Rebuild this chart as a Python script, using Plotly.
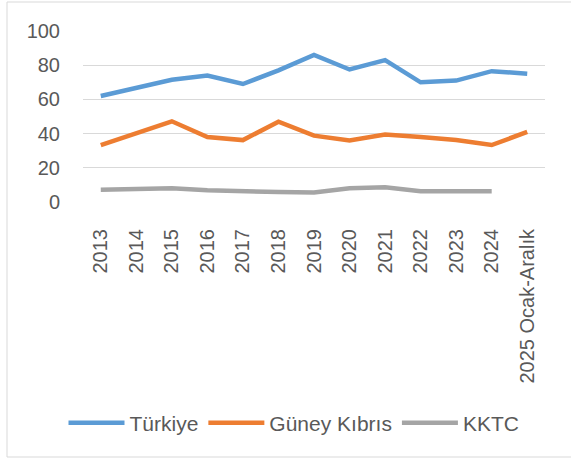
import plotly.graph_objects as go

categories = ["2013", "2014", "2015", "2016", "2017", "2018", "2019",
              "2020", "2021", "2022", "2023", "2024", "2025 Ocak-Aralık"]
turkiye = [62, 67, 71.5, 74, 69, 77, 86, 77.5, 83, 70, 71, 76.5, 75]
guney_kibris = [33.3, 40.5, 47.2, 38, 36.2, 47, 38.8, 36, 39.5, 38, 36.2, 33.3, 41]
kktc = [7.2, 7.6, 8, 6.8, 6.1, 5.8, 5.6, 8, 8.6, 6.3, 6.3, 6.3, None]

tick_vals = [0, 20, 40, 60, 80, 100]

FONT = "Liberation Sans"
TXT = "#595959"

fig = go.Figure()
fig.add_trace(go.Scatter(x=categories, y=turkiye, name="Türkiye", mode="lines",
                         line=dict(color="#5B9BD5", width=4.5)))
fig.add_trace(go.Scatter(x=categories, y=guney_kibris, name="Güney Kıbrıs", mode="lines",
                         line=dict(color="#ED7D31", width=4.5)))
fig.add_trace(go.Scatter(x=categories, y=kktc, name="KKTC", mode="lines",
                         line=dict(color="#A5A5A5", width=4.5)))

L, R, T, B = 83, 26, 31, 259
W, H = 571, 461
pw, ph = W - L - R, H - T - B


def px_x(px):
    return (px - L) / pw


def px_y(py):
    return (H - B - py) / ph


border = dict(color="#D9D9D9", width=1)
shapes = [
    dict(type="line", xref="paper", yref="paper", x0=px_x(7), x1=px_x(7), y0=px_y(2), y1=px_y(457), line=border),
    dict(type="line", xref="paper", yref="paper", x0=px_x(7), x1=px_x(571), y0=px_y(2), y1=px_y(2), line=border),
    dict(type="line", xref="paper", yref="paper", x0=px_x(7), x1=px_x(571), y0=px_y(457), y1=px_y(457), line=border),
]

fig.update_layout(
    width=W, height=H,
    margin=dict(l=L, r=R, t=T, b=B, autoexpand=False),
    paper_bgcolor="white", plot_bgcolor="white",
    font=dict(family=FONT, size=20, color=TXT),
    shapes=shapes,
    showlegend=True,
    legend=dict(orientation="h", x=px_x(294), xanchor="center", y=px_y(423), yanchor="middle",
                font=dict(family=FONT, size=21, color=TXT), itemwidth=56,
                traceorder="normal", bgcolor="rgba(0,0,0,0)"),
    xaxis=dict(type="category", range=[-0.5, len(categories) - 0.5], tickangle=-90,
               showgrid=False, showline=False,
               zeroline=False, ticks="", tickfont=dict(family=FONT, size=20, color=TXT),
               ticklabelstandoff=22, automargin=False),
    yaxis=dict(range=[0, 100], tickvals=tick_vals, showgrid=True, gridcolor="#D9D9D9",
               gridwidth=1, zeroline=False, showline=False, ticks="",
               tickfont=dict(family=FONT, size=20, color=TXT), ticklabelstandoff=22,
               automargin=False),
)

fig.write_html("out.html", config={"displayModeBar": False},
               post_script="document.body.style.margin='0';document.body.style.overflow='hidden';")
